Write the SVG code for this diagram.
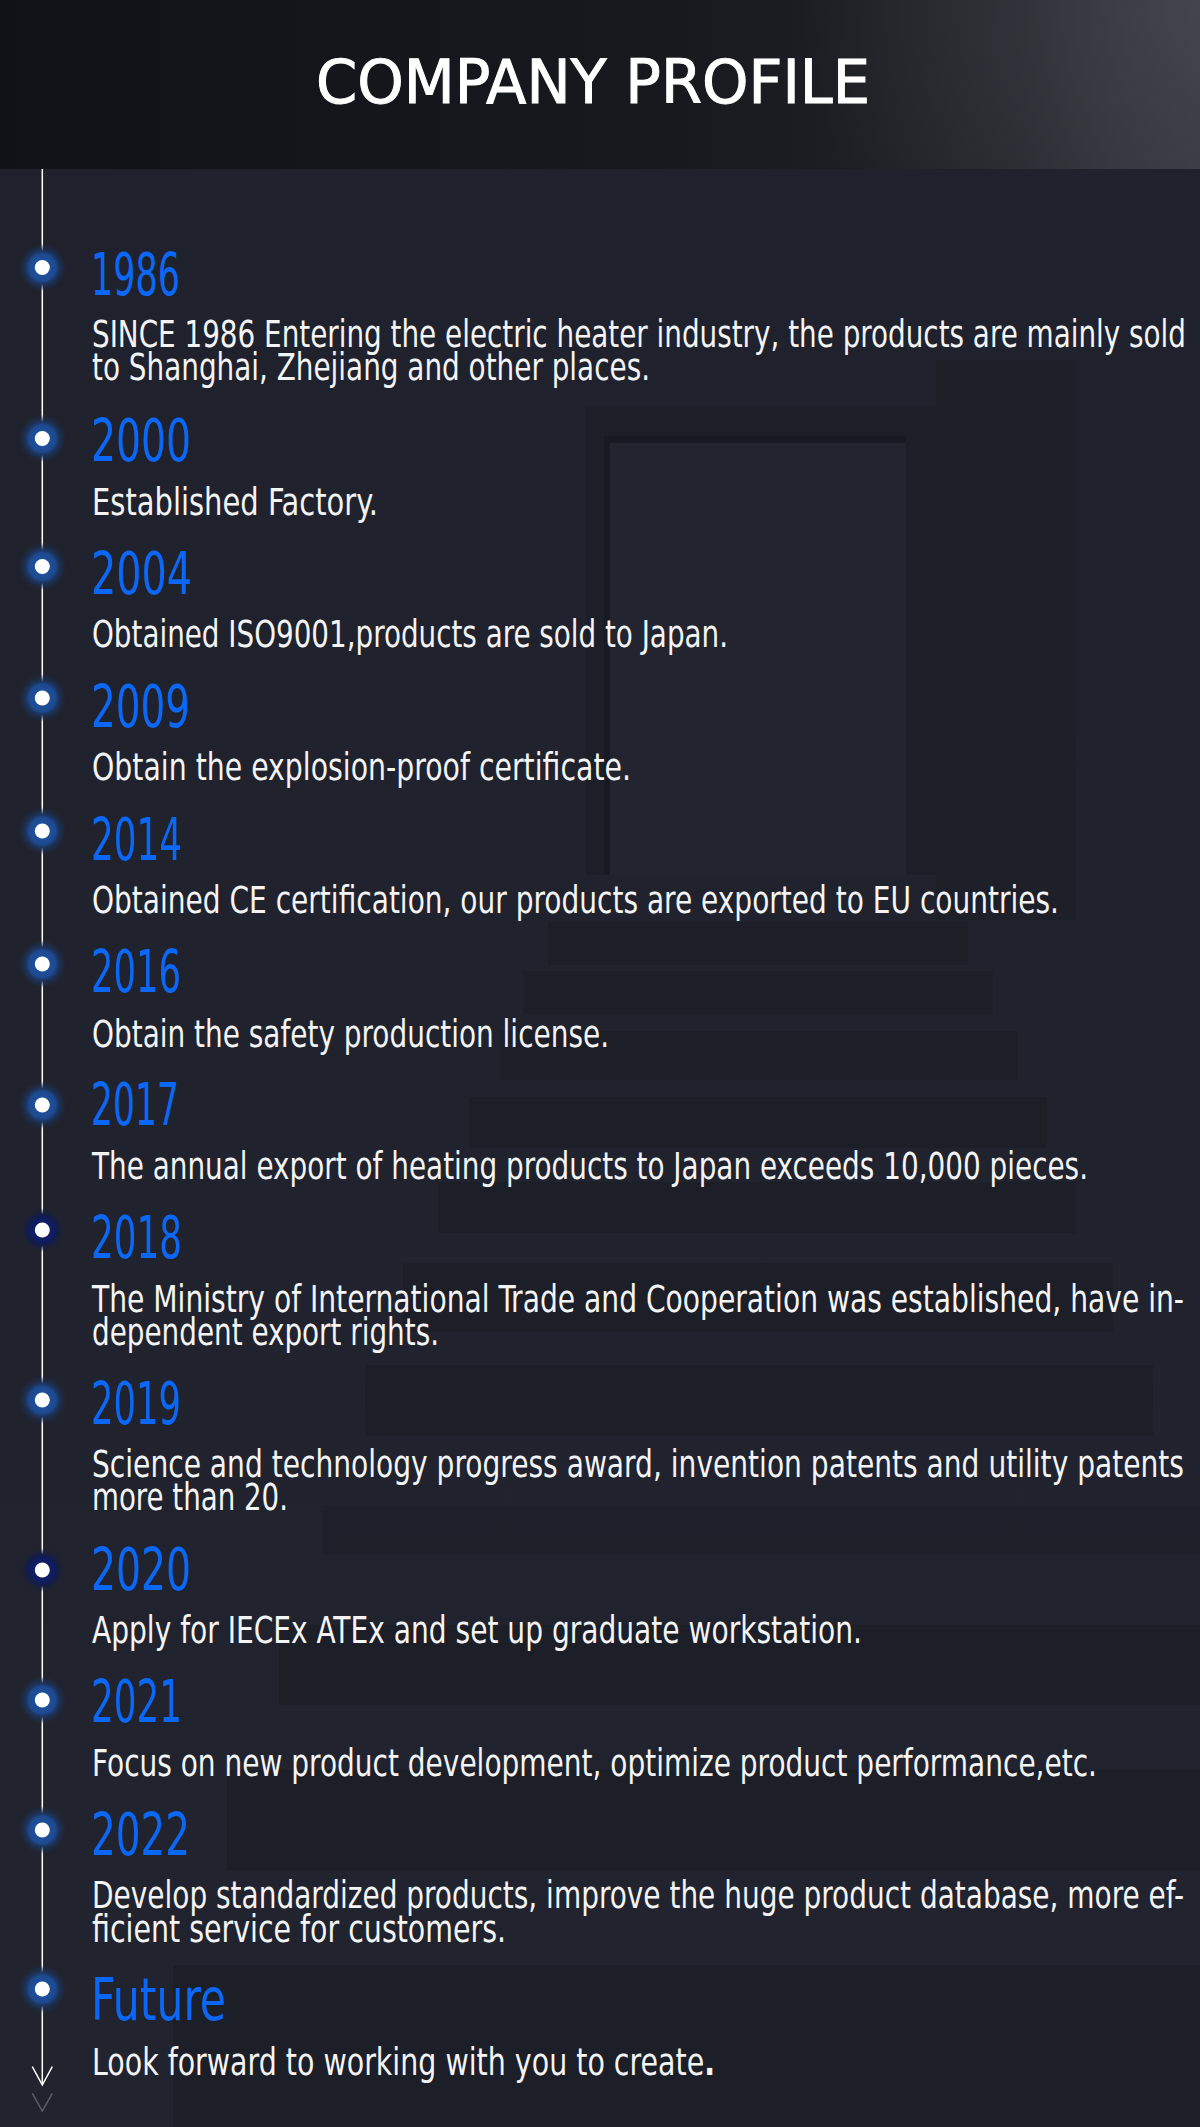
<svg xmlns="http://www.w3.org/2000/svg" width="1200" height="2127" viewBox="0 0 1200 2127">
<style>
.title{font-family:"Liberation Sans Narrow","DejaVu Sans Condensed","Liberation Sans",sans-serif;font-size:61px;fill:#ffffff;stroke:#ffffff;stroke-width:0.9}
.yr{font-family:"Liberation Sans Narrow","DejaVu Sans Condensed","Liberation Sans",sans-serif;font-size:59px;fill:#0b68f6}
.ds{font-family:"Liberation Sans Narrow","DejaVu Sans Condensed","Liberation Sans",sans-serif;font-size:37px;fill:#f4f4f4}
.core{fill:#ffffff}
.step{fill:#1c1e28}
</style>
<defs>
<linearGradient id="hdr" x1="0" y1="0" x2="1" y2="0">
<stop offset="0" stop-color="#111218"/>
<stop offset="0.55" stop-color="#17191f"/>
<stop offset="0.85" stop-color="#212329"/>
<stop offset="1" stop-color="#33353c"/>
</linearGradient>
<radialGradient id="hdrglow" cx="1200" cy="0" r="400" gradientUnits="userSpaceOnUse">
<stop offset="0" stop-color="#4a4c53" stop-opacity="0.7"/>
<stop offset="1" stop-color="#4a4c53" stop-opacity="0"/>
</radialGradient>
<radialGradient id="halo">
<stop offset="0" stop-color="#2056a8"/>
<stop offset="0.55" stop-color="#1d4a90"/>
<stop offset="0.68" stop-color="#1c3560"/>
<stop offset="1" stop-color="#1c2a48" stop-opacity="0"/>
</radialGradient>
<radialGradient id="halo2">
<stop offset="0" stop-color="#0f1f78"/>
<stop offset="0.55" stop-color="#0f1c5e"/>
<stop offset="0.7" stop-color="#141d45"/>
<stop offset="1" stop-color="#1a2038" stop-opacity="0"/>
</radialGradient>
<linearGradient id="body" x1="0" y1="0" x2="0" y2="1">
<stop offset="0" stop-color="#1f222d"/>
<stop offset="1" stop-color="#21242f"/>
</linearGradient>
</defs>

<!-- background -->
<rect x="0" y="0" width="1200" height="2127" fill="url(#body)"/>
<rect x="0" y="0" width="1200" height="169" fill="url(#hdr)"/>
<rect x="0" y="0" width="1200" height="169" fill="url(#hdrglow)"/>

<!-- door -->
<g id="door">
<rect x="936" y="360" width="140" height="560" fill="#1e2029"/>
<rect x="586" y="407" width="350" height="468" fill="#1c1e28"/>
<rect x="604" y="436" width="302" height="439" fill="#181a23"/>
<rect x="610" y="443" width="296" height="432" fill="#22252f"/>
</g>
<!-- stairs -->
<g id="stairs">
<rect class="step" x="548" y="922" width="420" height="43"/>
<rect class="step" x="523" y="971" width="470" height="43"/>
<rect class="step" x="499" y="1031" width="519" height="49"/>
<rect class="step" x="469" y="1097" width="578" height="51"/>
<rect class="step" x="438" y="1182" width="639" height="51"/>
<rect class="step" x="403" y="1263" width="710" height="69"/>
<rect class="step" x="365" y="1365" width="788" height="71"/>
<rect class="step" x="323" y="1505" width="877" height="50" opacity="0.6"/>
<rect class="step" x="279" y="1625" width="921" height="80"/>
<rect class="step" x="227" y="1770" width="973" height="100"/>
<rect class="step" x="173" y="1965" width="1027" height="162"/>
</g>

<g id="header">
<text class="title" x="316" y="103" textLength="554" lengthAdjust="spacingAndGlyphs">COMPANY PROFILE</text>
</g>

<!-- connectors -->
<g id="connectors" fill="none">
<line x1="42.3" y1="169" x2="42.3" y2="2085" stroke="#ffffff" stroke-width="1.5"/>
<polyline points="32.3,2066.7 42.3,2085 52.3,2066.7" stroke="#ffffff" stroke-width="1.5"/>
<polyline points="32.3,2093.3 42.3,2111 52.3,2093.3" stroke="#5a5e6a" stroke-width="1.5"/>
</g>

<g id="n1986">
<circle cx="42.3" cy="267.5" r="24" fill="url(#halo)"/><circle class="core" cx="42.3" cy="267.5" r="7.5"/>
<text class="yr" x="91" y="294.5" textLength="89" lengthAdjust="spacingAndGlyphs">1986</text>
<text class="ds" x="92" y="347" textLength="1094" lengthAdjust="spacingAndGlyphs">SINCE 1986 Entering the electric heater industry, the products are mainly sold</text>
<text class="ds" x="92" y="380" textLength="558" lengthAdjust="spacingAndGlyphs">to Shanghai, Zhejiang and other places.</text>
</g>
<g id="n2000">
<circle cx="42.3" cy="438.5" r="24" fill="url(#halo)"/><circle class="core" cx="42.3" cy="438.5" r="7.5"/>
<text class="yr" x="91" y="461" textLength="100" lengthAdjust="spacingAndGlyphs">2000</text>
<text class="ds" x="92" y="515" textLength="286" lengthAdjust="spacingAndGlyphs">Established Factory.</text>
</g>
<g id="n2004">
<circle cx="42.3" cy="566.5" r="24" fill="url(#halo)"/><circle class="core" cx="42.3" cy="566.5" r="7.5"/>
<text class="yr" x="91" y="593.5" textLength="101" lengthAdjust="spacingAndGlyphs">2004</text>
<text class="ds" x="92" y="647" textLength="636" lengthAdjust="spacingAndGlyphs">Obtained ISO9001,products are sold to Japan.</text>
</g>
<g id="n2009">
<circle cx="42.3" cy="698" r="24" fill="url(#halo)"/><circle class="core" cx="42.3" cy="698" r="7.5"/>
<text class="yr" x="91" y="727" textLength="99" lengthAdjust="spacingAndGlyphs">2009</text>
<text class="ds" x="92" y="780" textLength="539" lengthAdjust="spacingAndGlyphs">Obtain the explosion-proof certificate.</text>
</g>
<g id="n2014">
<circle cx="42.3" cy="831" r="24" fill="url(#halo)"/><circle class="core" cx="42.3" cy="831" r="7.5"/>
<text class="yr" x="91" y="860" textLength="91" lengthAdjust="spacingAndGlyphs">2014</text>
<text class="ds" x="92" y="912.5" textLength="967" lengthAdjust="spacingAndGlyphs">Obtained CE certification, our products are exported to EU countries.</text>
</g>
<g id="n2016">
<circle cx="42.3" cy="964" r="24" fill="url(#halo)"/><circle class="core" cx="42.3" cy="964" r="7.5"/>
<text class="yr" x="91" y="992" textLength="90" lengthAdjust="spacingAndGlyphs">2016</text>
<text class="ds" x="92" y="1046.5" textLength="517" lengthAdjust="spacingAndGlyphs">Obtain the safety production license.</text>
</g>
<g id="n2017">
<circle cx="42.3" cy="1105" r="24" fill="url(#halo)"/><circle class="core" cx="42.3" cy="1105" r="7.5"/>
<text class="yr" x="91" y="1125" textLength="88" lengthAdjust="spacingAndGlyphs">2017</text>
<text class="ds" x="92" y="1179" textLength="996" lengthAdjust="spacingAndGlyphs">The annual export of heating products to Japan exceeds 10,000 pieces.</text>
</g>
<g id="n2018">
<circle cx="42.3" cy="1230" r="22" fill="url(#halo2)"/><circle class="core" cx="42.3" cy="1230" r="7.5"/>
<text class="yr" x="91" y="1258" textLength="91" lengthAdjust="spacingAndGlyphs">2018</text>
<text class="ds" x="92" y="1312" textLength="1092" lengthAdjust="spacingAndGlyphs">The Ministry of International Trade and Cooperation was established, have in-</text>
<text class="ds" x="92" y="1345" textLength="347" lengthAdjust="spacingAndGlyphs">dependent export rights.</text>
</g>
<g id="n2019">
<circle cx="42.3" cy="1400" r="24" fill="url(#halo)"/><circle class="core" cx="42.3" cy="1400" r="7.5"/>
<text class="yr" x="91" y="1424" textLength="90" lengthAdjust="spacingAndGlyphs">2019</text>
<text class="ds" x="92" y="1477" textLength="1092" lengthAdjust="spacingAndGlyphs">Science and technology progress award, invention patents and utility patents</text>
<text class="ds" x="92" y="1510" textLength="196" lengthAdjust="spacingAndGlyphs">more than 20.</text>
</g>
<g id="n2020">
<circle cx="42.3" cy="1570" r="22" fill="url(#halo2)"/><circle class="core" cx="42.3" cy="1570" r="7.5"/>
<text class="yr" x="91" y="1590" textLength="100" lengthAdjust="spacingAndGlyphs">2020</text>
<text class="ds" x="92" y="1643" textLength="770" lengthAdjust="spacingAndGlyphs">Apply for IECEx ATEx and set up graduate workstation.</text>
</g>
<g id="n2021">
<circle cx="42.3" cy="1700" r="24" fill="url(#halo)"/><circle class="core" cx="42.3" cy="1700" r="7.5"/>
<text class="yr" x="91" y="1722" textLength="91" lengthAdjust="spacingAndGlyphs">2021</text>
<text class="ds" x="92" y="1776" textLength="1005" lengthAdjust="spacingAndGlyphs">Focus on new product development, optimize product performance,etc.</text>
</g>
<g id="n2022">
<circle cx="42.3" cy="1830" r="24" fill="url(#halo)"/><circle class="core" cx="42.3" cy="1830" r="7.5"/>
<text class="yr" x="91" y="1855" textLength="99" lengthAdjust="spacingAndGlyphs">2022</text>
<text class="ds" x="92" y="1908" textLength="1092" lengthAdjust="spacingAndGlyphs">Develop standardized products, improve the huge product database, more ef-</text>
<text class="ds" x="92" y="1941.5" textLength="414" lengthAdjust="spacingAndGlyphs">ficient service for customers.</text>
</g>
<g id="nFuture">
<circle cx="42.3" cy="1989" r="24" fill="url(#halo)"/><circle class="core" cx="42.3" cy="1989" r="7.5"/>
<text class="yr" x="91" y="2020" textLength="135" lengthAdjust="spacingAndGlyphs">Future</text>
<text class="ds" x="92" y="2075" textLength="623" lengthAdjust="spacingAndGlyphs">Look forward to working with you to create<tspan font-weight="bold">.</tspan></text>
</g>
</svg>
